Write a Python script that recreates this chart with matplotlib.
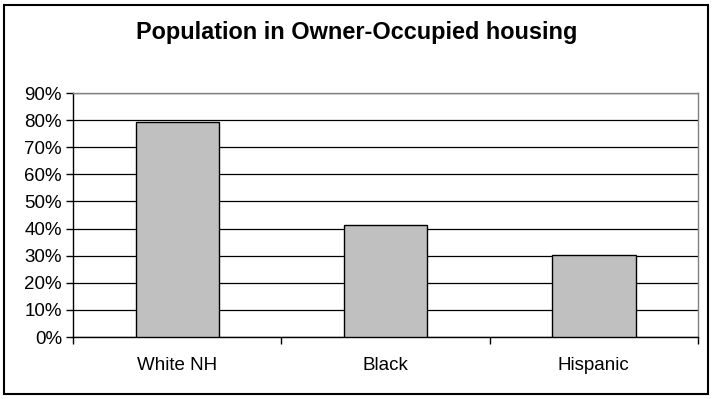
import matplotlib.pyplot as plt
from matplotlib.patches import Rectangle
from matplotlib.ticker import FixedLocator, NullFormatter

plt.rcParams['font.family'] = ['Liberation Sans', 'DejaVu Sans']

groups = ['White NH', 'Black', 'Hispanic']
owner_share = [79.2, 41.2, 30.4]
y_ticks = [0, 10, 20, 30, 40, 50, 60, 70, 80, 90]

fig = plt.figure(figsize=(7.13, 3.99), dpi=100)
ax = fig.add_axes([73 / 713, 1 - 337 / 399, 625 / 713, 244 / 399])

x = range(len(groups))
ax.bar(x, owner_share, width=0.4, color='#c0c0c0', edgecolor='black',
       linewidth=1, zorder=3)

ax.set_xlim(-0.5, len(groups) - 0.5)
ax.set_ylim(0, 90)
ax.set_yticks(y_ticks)
ax.set_yticklabels([f'{v}%' for v in y_ticks])
ax.set_xticks(list(x))
ax.set_xticklabels(groups)
ax.tick_params(axis='x', length=0, pad=14.5, labelsize=13.5)
ax.tick_params(axis='y', length=5, width=1, pad=3, labelsize=13.5, direction='out')
# category boundary ticks on the x axis
ax.xaxis.set_minor_locator(FixedLocator([-0.5, 0.5, 1.5, 2.5]))
ax.xaxis.set_minor_formatter(NullFormatter())
ax.tick_params(axis='x', which='minor', length=5, width=1, direction='out')

ax.yaxis.grid(True, color='black', linewidth=0.9, zorder=0)
ax.set_axisbelow(True)
for side in ['left', 'bottom']:
    ax.spines[side].set_color('black')
    ax.spines[side].set_linewidth(1)
for side in ['top', 'right']:
    ax.spines[side].set_color('#808080')
    ax.spines[side].set_linewidth(1)

fig.text(357 / 713, 1 - 33 / 399, 'Population in Owner-Occupied housing',
         ha='center', va='center', fontsize=16.9, fontweight='bold')

fig.patches.append(Rectangle((4 / 713, 5 / 399), 704 / 713, 389 / 399,
                             transform=fig.transFigure, fill=False,
                             edgecolor='black', linewidth=1.5))

fig.savefig('out.png', dpi=100)
